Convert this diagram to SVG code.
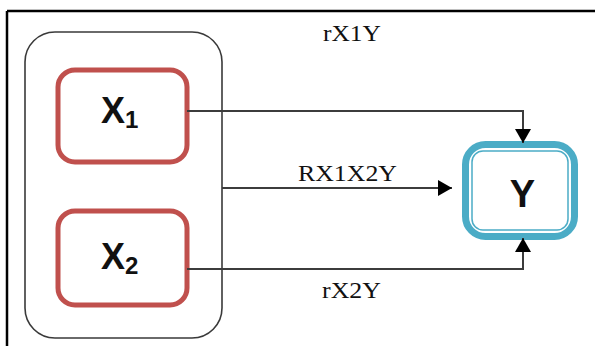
<svg xmlns="http://www.w3.org/2000/svg" width="595" height="346" viewBox="0 0 595 346">
<defs>
<style>
.frame{stroke:#000;stroke-width:2.5;fill:none}
.group{fill:#fff;stroke:#3a3a3a;stroke-width:1.6}
.xbox{fill:#fff;stroke:#c0504d;stroke-width:5}
.ybox{fill:#fff;stroke:#4bacc6;stroke-width:7}
.yin{fill:none;stroke:#4bacc6;stroke-width:1.5}
.conn{fill:none;stroke:#3c3c3c;stroke-width:2}
.big{font-family:"Liberation Sans",Arial,sans-serif;font-weight:bold;fill:#111}
.lbl{font-family:"Liberation Serif","Times New Roman",serif;font-size:24px;fill:#111}
</style>
<marker id="ah" viewBox="0 0 14 16" refX="14" refY="8" markerWidth="14" markerHeight="16" markerUnits="userSpaceOnUse" orient="auto">
<path d="M0,0 L14,8 L0,16 Z" fill="#000"/>
</marker>
</defs>
<g id="frame">
<path class="frame" d="M7,11 H595 M7,11 V346"/>
</g>
<g id="group">
<rect class="group" x="25" y="32" width="197" height="306" rx="30" ry="30"/>
</g>
<g id="X1">
<rect class="xbox" x="58" y="70" width="129" height="92" rx="17" ry="17"/>
<text class="big" x="101" y="123" font-size="36">X<tspan font-size="24" dy="5">1</tspan></text>
</g>
<g id="X2">
<rect class="xbox" x="58" y="211" width="129" height="94" rx="17" ry="17"/>
<text class="big" x="101" y="269" font-size="36">X<tspan font-size="24" dy="5">2</tspan></text>
</g>
<g id="Y">
<rect class="ybox" x="465.5" y="144.5" width="109" height="92" rx="20" ry="20"/>
<rect class="yin" x="472" y="151" width="96" height="79" rx="11" ry="11"/>
<text class="big" x="522.5" y="207" font-size="38" text-anchor="middle">Y</text>
</g>
<g id="connectors">
<path class="conn" d="M187,111 H523 V143" marker-end="url(#ah)"/>
<path class="conn" d="M222,188 H452" marker-end="url(#ah)"/>
<path class="conn" d="M187,269 H523 V238" marker-end="url(#ah)"/>
<text class="lbl" x="323" y="41" textLength="58" lengthAdjust="spacingAndGlyphs">rX1Y</text>
<text class="lbl" x="298" y="181" textLength="99" lengthAdjust="spacingAndGlyphs">RX1X2Y</text>
<text class="lbl" x="322" y="298" textLength="59" lengthAdjust="spacingAndGlyphs">rX2Y</text>
</g>
</svg>
